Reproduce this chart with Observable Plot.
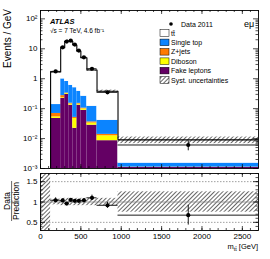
<!DOCTYPE html>
<html><head><meta charset="utf-8">
<script src="https://cdn.jsdelivr.net/npm/d3@7"></script>
<script src="https://cdn.jsdelivr.net/npm/@observablehq/plot@0.6"></script>
<style>
body{margin:0;background:#fff;}
#wrap{position:relative;width:270px;height:259px;overflow:hidden;font-family:"Liberation Sans",Arial,sans-serif;}
#wrap svg{position:absolute;left:0;}
</style></head><body><div id="wrap"></div>
<script>
// ---- data ----
const binEdges    = [125, 250, 300, 350, 400, 450, 500, 575, 700, 960, 2700];
const dataVals    = [1.75, 11.2, 17.4, 18.7, 13.8, 8.7, 5.2, 2.15, 0.35, 0.0061];
const dataErr     = [0.1, 0.35, 0.45, 0.47, 0.4, 0.3, 0.23, 0.13, 0.028, 0.0022];
const ttbar       = [1.54, 9.8, 17.3, 17.2, 12.9, 8.07, 4.74, 1.83, 0.34, 0.0075];
const singleTop   = [0.068, 0.713, 0.478, 0.448, 0.449, 0.23, 0.156, 0.084, 0.027, 0.0004];
const zJets       = [0.016, 0.04, 0.012, 0.01, 0.004, 0.008, 0.006, 0.003, 0.0014, 0.00001];
const diboson     = [0.006, 0.012, 0.02, 0.012, 0.025, 0.012, 0.01, 0.005, 0.0039, 0.00002];
const fakeLeptons = [0.047, 0.22, 0.30, 0.13, 0.022, 0.13, 0.088, 0.028, 0.0085, 0.00108];
const systRel     = [0.07, 0.09, 0.09, 0.09, 0.09, 0.09, 0.09, 0.09, 0.09, 0.25];
const xTicks = [0, 500, 1000, 1500, 2000, 2500];
const yTicksUpper = [1e-3, 1e-2, 1e-1, 1, 10, 100];
const yTickLabelsUpper = ["10⁻³", "10⁻²", "10⁻¹", "1", "10", "10²"];
const ratioTicks = [0.5, 1, 1.5];
const ratioTickLabels = ["0.5", "1", "1.5"];
const compNames  = ["Fake leptons", "Diboson", "Z+jets", "Single top", "tt̄"];
const compValues = [fakeLeptons, diboson, zJets, singleTop, ttbar];
const compColors = ["#640064", "#ffff00", "#ff7a00", "#0b84ff", "#ffffff"];
const legendLabels = ["tt̄", "Single top", "Z+jets", "Diboson", "Fake leptons", "Syst. uncertainties"];

// ---- derived tables ----
const nb = dataVals.length;
const bins = d3.range(nb).map(i => ({x1: binEdges[i], x2: binEdges[i+1], xc: (binEdges[i]+binEdges[i+1])/2}));
const stackRows = [];
const totals = bins.map((b, i) => {
  let cum = 1e-6;
  compValues.forEach((arr, k) => { stackRows.push({...b, comp: k, y1: cum, y2: cum + arr[i]}); cum += arr[i]; });
  return cum;
});
const dataRows = bins.map((b, i) => ({...b, y: dataVals[i], lo: dataVals[i]-dataErr[i], hi: dataVals[i]+dataErr[i],
  r: dataVals[i]/totals[i], rlo: (dataVals[i]-dataErr[i])/totals[i], rhi: (dataVals[i]+dataErr[i])/totals[i]}));
const bandRows = bins.map((b, i) => ({...b, lo: totals[i]*(1-systRel[i]), hi: totals[i]*(1+systRel[i]), rlo: 1-systRel[i], rhi: 1+systRel[i]}));
const stepPts = [{x: binEdges[0], y: 1e-6}];
bins.forEach((b, i) => { stepPts.push({x: b.x1, y: totals[i]}, {x: b.x2, y: totals[i]}); });

const W = 270, ML = 40, MR = 12;
const fw = W - ML - MR;
const HATCH = "#123456";
const yDomU = [1e-3, 190], yDomL = [0.3, 1.7];
const xDom = [0, 2700];
const minorX = d3.range(0, 2701, 100);
const minorYU = [];
for (let e = -3; e <= 2; e++) for (let k = 2; k <= 9; k++) { const v = k*Math.pow(10, e); if (v < yDomU[1]) minorYU.push(v); }
const minorYL = d3.range(0.3, 1.71, 0.1);

function ticksY(vals, len) {
  return [Plot.tickY(vals, {y: d => d, insetRight: fw - len, stroke: "#000", strokeWidth: 0.7}),
          Plot.tickY(vals, {y: d => d, insetLeft: fw - len, stroke: "#000", strokeWidth: 0.7})];
}
function ticksX(vals, len, fh) {
  return [Plot.tickX(vals, {x: d => d, insetTop: fh - len, stroke: "#000", strokeWidth: 0.7}),
          Plot.tickX(vals, {x: d => d, insetBottom: fh - len, stroke: "#000", strokeWidth: 0.7})];
}
const font = {fontFamily: "Liberation Sans, Arial, sans-serif", fontSize: "8px", background: "transparent", overflow: "visible"};

// ---- upper panel ----
const HU = 172, MTU = 10, MBU = 4, fhU = HU - MTU - MBU;
const upper = Plot.plot({
  width: W, height: HU, marginLeft: ML, marginRight: MR, marginTop: MTU, marginBottom: MBU,
  style: font,
  x: {domain: xDom, axis: null},
  y: {type: "log", domain: yDomU, axis: null},
  marks: [
    ...compColors.map((c, k) => Plot.rect(stackRows.filter(r => r.comp === k), {x1: "x1", x2: "x2", y1: "y1", y2: "y2", fill: c, clip: true})),
    Plot.rect(bandRows, {x1: "x1", x2: "x2", y1: "lo", y2: "hi", fill: HATCH, clip: true}),
    Plot.line(stepPts, {x: "x", y: "y", stroke: "#000", strokeWidth: 1.1, clip: true}),
    Plot.ruleY(dataRows, {x1: "x1", x2: "x2", y: "y", stroke: "#000", strokeWidth: 0.9}),
    Plot.ruleX(dataRows, {x: "xc", y1: "lo", y2: "hi", stroke: "#000", strokeWidth: 0.9}),
    Plot.dot(dataRows, {x: "xc", y: "y", r: 2.1, fill: "#000"}),
    ...ticksY(minorYU, 2.5), ...ticksY(yTicksUpper, 5),
    ...ticksX(minorX, 2, fhU), ...ticksX(xTicks, 4, fhU),
    Plot.axisY(yTicksUpper, {anchor: "left", tickSize: 0, tickPadding: 3, fontSize: 8,
      tickFormat: d => yTickLabelsUpper[yTicksUpper.indexOf(d)]}),
    Plot.frame({stroke: "#000", strokeWidth: 0.9})
  ]
});

// ---- lower (ratio) panel ----
const HL = 87, MTL = 1, MBL = 29, fhL = HL - MTL - MBL;
const emptyRegion = [{x1: xDom[0], x2: binEdges[0], lo: yDomL[0], hi: yDomL[1]}];
const lower = Plot.plot({
  width: W, height: HL, marginLeft: ML, marginRight: MR, marginTop: MTL, marginBottom: MBL,
  style: font,
  x: {domain: xDom, axis: null},
  y: {domain: yDomL, axis: null},
  marks: [
    Plot.rect(emptyRegion, {x1: "x1", x2: "x2", y1: "lo", y2: "hi", fill: HATCH}),
    Plot.rect(bandRows, {x1: "x1", x2: "x2", y1: "rlo", y2: "rhi", fill: HATCH}),
    Plot.ruleY([0.5, 1.5], {stroke: "#888", strokeWidth: 0.8, strokeDasharray: "1.5,1.5"}),
    Plot.ruleY([1], {stroke: "#888", strokeWidth: 0.8}),
    Plot.ruleY(dataRows, {x1: "x1", x2: "x2", y: "r", stroke: "#000", strokeWidth: 0.9}),
    Plot.ruleX(dataRows, {x: "xc", y1: "rlo", y2: "rhi", stroke: "#000", strokeWidth: 0.9}),
    Plot.dot(dataRows, {x: "xc", y: "r", r: 2.1, fill: "#000"}),
    ...ticksY(minorYL, 2.5), ...ticksY(ratioTicks, 5),
    ...ticksX(minorX, 2, fhL), ...ticksX(xTicks, 4, fhL),
    Plot.axisY(ratioTicks, {anchor: "left", tickSize: 0, tickPadding: 3, fontSize: 8,
      tickFormat: d => ratioTickLabels[ratioTicks.indexOf(d)]}),
    Plot.axisX(xTicks, {anchor: "bottom", tickSize: 0, tickPadding: 3, fontSize: 8, tickFormat: d => String(d)}),
    Plot.frame({stroke: "#000", strokeWidth: 0.9})
  ]
});

function addHatch(svg, id) {
  const s = d3.select(svg);
  const p = s.insert("defs", ":first-child").append("pattern").attr("id", id)
    .attr("patternUnits", "userSpaceOnUse").attr("width", 3).attr("height", 3)
    .attr("patternTransform", "rotate(45)");
  p.append("line").attr("x1", 0.5).attr("y1", 0).attr("x2", 0.5).attr("y2", 3).attr("stroke", "#000").attr("stroke-width", 0.6);
  s.selectAll(`[fill="${HATCH}"]`).attr("fill", `url(#${id})`);
}
addHatch(upper, "hatchU");
addHatch(lower, "hatchL");
const wrap = document.getElementById("wrap");
upper.style.top = "0px";
lower.style.top = HU + "px";
wrap.appendChild(upper);
wrap.appendChild(lower);

// ---- overlay texts and legend ----
const ov = d3.select(wrap).append("svg").attr("width", 270).attr("height", 259).style("top", "0px")
  .style("font-family", "Liberation Sans, Arial, sans-serif");
const od = ov.append("defs").append("pattern").attr("id", "hatchO")
  .attr("patternUnits", "userSpaceOnUse").attr("width", 3).attr("height", 3).attr("patternTransform", "rotate(45)");
od.append("line").attr("x1", 0.5).attr("y1", 0).attr("x2", 0.5).attr("y2", 3).attr("stroke", "#000").attr("stroke-width", 0.6);

ov.append("text").attr("x", 50).attr("y", 24).attr("font-size", 7.5).attr("font-weight", "bold").attr("font-style", "italic").text("ATLAS");
ov.append("text").attr("x", 50).attr("y", 32.5).attr("font-size", 6.5).text("√s = 7 TeV, 4.6 fb⁻¹");
ov.append("text").attr("x", 244).attr("y", 27).attr("font-size", 9).text("eμ");
// legend
ov.append("circle").attr("cx", 171).attr("cy", 24).attr("r", 1.8).attr("fill", "#000");
ov.append("text").attr("x", 181).attr("y", 26.5).attr("font-size", 7).text("Data 2011");
const legFills = [compColors[4], compColors[3], compColors[2], compColors[1], compColors[0], "url(#hatchO)"];
legendLabels.forEach((lab, i) => {
  const cy = 33 + i*9.4;
  ov.append("rect").attr("x", 160).attr("y", cy - 3.3).attr("width", 9).attr("height", 6.6)
    .attr("fill", legFills[i]).attr("stroke", "#000").attr("stroke-width", 0.5);
  ov.append("text").attr("x", 171).attr("y", cy + 2.5).attr("font-size", 7).text(lab);
});
// axis titles
ov.append("text").attr("transform", "translate(11,9) rotate(-90)").attr("text-anchor", "end").attr("font-size", 10).text("Events / GeV");
ov.append("text").attr("transform", "translate(10,201) rotate(-90)").attr("text-anchor", "middle").attr("font-size", 8.5).text("Data");
ov.append("line").attr("x1", 11.6).attr("x2", 11.6).attr("y1", 181).attr("y2", 221).attr("stroke", "#000").attr("stroke-width", 0.6);
ov.append("text").attr("transform", "translate(18.8,201) rotate(-90)").attr("text-anchor", "middle").attr("font-size", 8.5).text("Prediction");
const xt = ov.append("text").attr("x", 258).attr("y", 249).attr("text-anchor", "end").attr("font-size", 7.5);
xt.append("tspan").text("m");
xt.append("tspan").attr("font-size", 5.5).attr("dy", 1.8).text("tt̄");
xt.append("tspan").attr("dy", -1.8).text(" [GeV]");
</script></body></html>
